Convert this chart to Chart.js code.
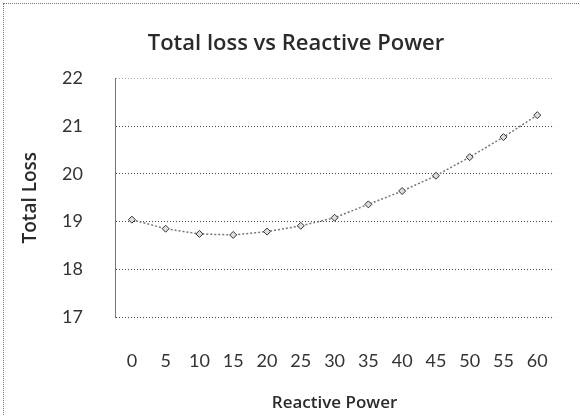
<!DOCTYPE html>
<html>
<head>
<meta charset="utf-8">
<script src="https://cdn.jsdelivr.net/npm/chart.js@4"></script>
<style>
  html, body { margin: 0; padding: 0; background: #fff; }
  #wrap {
    position: absolute; left: 0; top: 0; width: 580px; height: 416px;
    box-sizing: border-box;
    border-left: 1px dotted #777; border-top: 1px dotted #777;
    margin-left: 3px; margin-top: 3px;
  }
</style>
</head>
<body>
<div id="wrap"><canvas id="line-chart" width="577" height="413"></canvas></div>
<script>
// total loss vs reactive power
var reactivePower = ['0', '5', '10', '15', '20', '25', '30', '35', '40', '45', '50', '55', '60'];
var totalLoss = [19.04, 18.85, 18.74, 18.72, 18.79, 18.91, 19.08, 19.36, 19.64, 19.96, 20.35, 20.77, 21.23];

var textColor = '#2a2a2a';
var tickFont = 'Lato, "Open Sans", sans-serif';
var titleFont = '"Open Sans", Lato, sans-serif';

var ctx = document.getElementById('line-chart').getContext('2d');
var myChart = new Chart(ctx, {
    type: 'line',
    data: {
        labels: reactivePower,
        datasets: [{
            label: 'Total Loss',
            data: totalLoss,
            borderColor: '#777',
            borderWidth: 1.5,
            borderDash: [2, 2],
            pointStyle: 'rectRot',
            pointRadius: 3.5,
            pointBorderColor: '#333',
            pointBackgroundColor: '#ddd',
            pointBorderWidth: 1,
            tension: 0
        }]
    },
    options: {
        responsive: false,
        animation: false,
        layout: {
            padding: { left: 15, right: 8, top: 21, bottom: 2 }
        },
        plugins: {
            legend: { display: false },
            tooltip: { enabled: false },
            title: {
                display: true,
                text: 'Total loss vs Reactive Power',
                color: textColor,
                font: { family: titleFont, size: 22, weight: '600' },
                padding: { top: 6, bottom: 21 }
            }
        },
        scales: {
            x: {
                offset: true,
                grid: { display: false, drawTicks: false },
                border: { display: false },
                ticks: {
                    color: '#333',
                    font: { family: tickFont, size: 18 },
                    padding: 33,
                    maxRotation: 0,
                    autoSkip: false
                },
                title: {
                    display: true,
                    text: 'Reactive Power',
                    color: textColor,
                    font: { family: titleFont, size: 17, weight: '600' },
                    padding: { top: 0, bottom: 2 }
                },
                afterFit: function (scale) { scale.height = 98; }
            },
            y: {
                min: 17,
                max: 22,
                ticks: {
                    stepSize: 1,
                    color: '#333',
                    font: { family: tickFont, size: 18 },
                    padding: 32
                },
                grid: {
                    drawTicks: false,
                    color: function (c) { return c.tick && c.tick.value === 22 ? '#aaa' : '#444'; },
                    lineWidth: 1,
                    borderDash: [1, 2]
                },
                border: { display: true, dash: [1, 2], color: '#777' },
                title: {
                    display: true,
                    text: 'Total Loss',
                    color: textColor,
                    font: { family: titleFont, size: 19, weight: '600' },
                    padding: { top: 0, bottom: 0 }
                },
                afterFit: function (scale) { scale.width = 96; }
            }
        }
    }
});
</script>
</body>
</html>
